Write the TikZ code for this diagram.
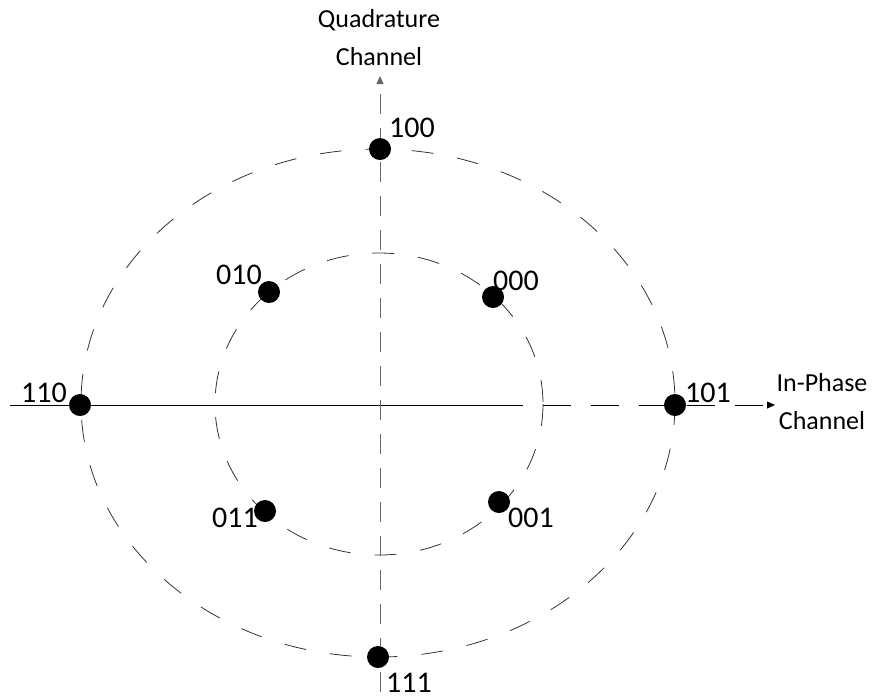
\documentclass[tikz,border=0pt]{standalone}
\usepackage{fontspec}
\setmainfont{Carlito}
\usetikzlibrary{arrows.meta, positioning, calc}
\tikzset{
    symbol/.style={circle, fill=black, minimum size=11pt, inner sep=0pt},
    blabel/.style={font=\fontsize{15}{17}\selectfont, inner sep=0pt},
    axlabel/.style={font=\fontsize{13}{15}\selectfont, inner sep=0pt, align=center},
    ring/.style={thin, dash pattern=on 11pt off 12pt, black!80},
    axis/.style={-{Triangle[length=4pt, width=3.5pt]}, thin},
}

\begin{document}
\begin{tikzpicture}[x=0.5pt, y=-0.5pt]
\useasboundingbox (0,0) rectangle (881,698);

% --- rings ---
\draw[ring] (378,403) ellipse [x radius=297, y radius=254];
\draw[ring] (379,404) ellipse [x radius=164, y radius=151];

% --- axes ---
\coordinate (iStart) at (10,405);
\coordinate (iSolid) at (495,405);
\coordinate (iEnd) at (775,405);
\coordinate (qStart) at (380,692);
\coordinate (qEnd) at (380,76);
\draw[thin] (iStart) -- (iSolid);
\draw[axis, dash pattern=on 14pt off 10pt] (iSolid) -- (iEnd);
\draw[axis, black!60, dash pattern=on 10pt off 7pt] (qStart) -- (qEnd);

\node[axlabel] (quad) at (379,38) {Quadrature\\[4pt]Channel};
\node[axlabel] (inph) at (822,402) {In-Phase\\[4pt]Channel};

% --- outer symbols ---
\node[symbol] (s100) at (380,149) {};
\node[symbol] (s110) at (80,405) {};
\node[symbol] (s101) at (675,405) {};
\node[symbol] (s111) at (378,657) {};

% --- inner symbols ---
\node[symbol] (s010) at (269,292) {};
\node[symbol] (s000) at (493,297) {};
\node[symbol] (s011) at (265,511) {};
\node[symbol] (s001) at (499,502) {};

% --- bit labels ---
\node[blabel] (l100) at (412,128) {100};
\node[blabel] (l110) at (44,393) {110};
\node[blabel] (l101) at (708,393) {101};
\node[blabel] (l111) at (409,683) {111};
\node[blabel] (l010) at (239,275) {010};
\node[blabel] (l000) at (516,281) {000};
\node[blabel] (l011) at (235,518) {011};
\node[blabel] (l001) at (531,518) {001};
\end{tikzpicture}
\end{document}
